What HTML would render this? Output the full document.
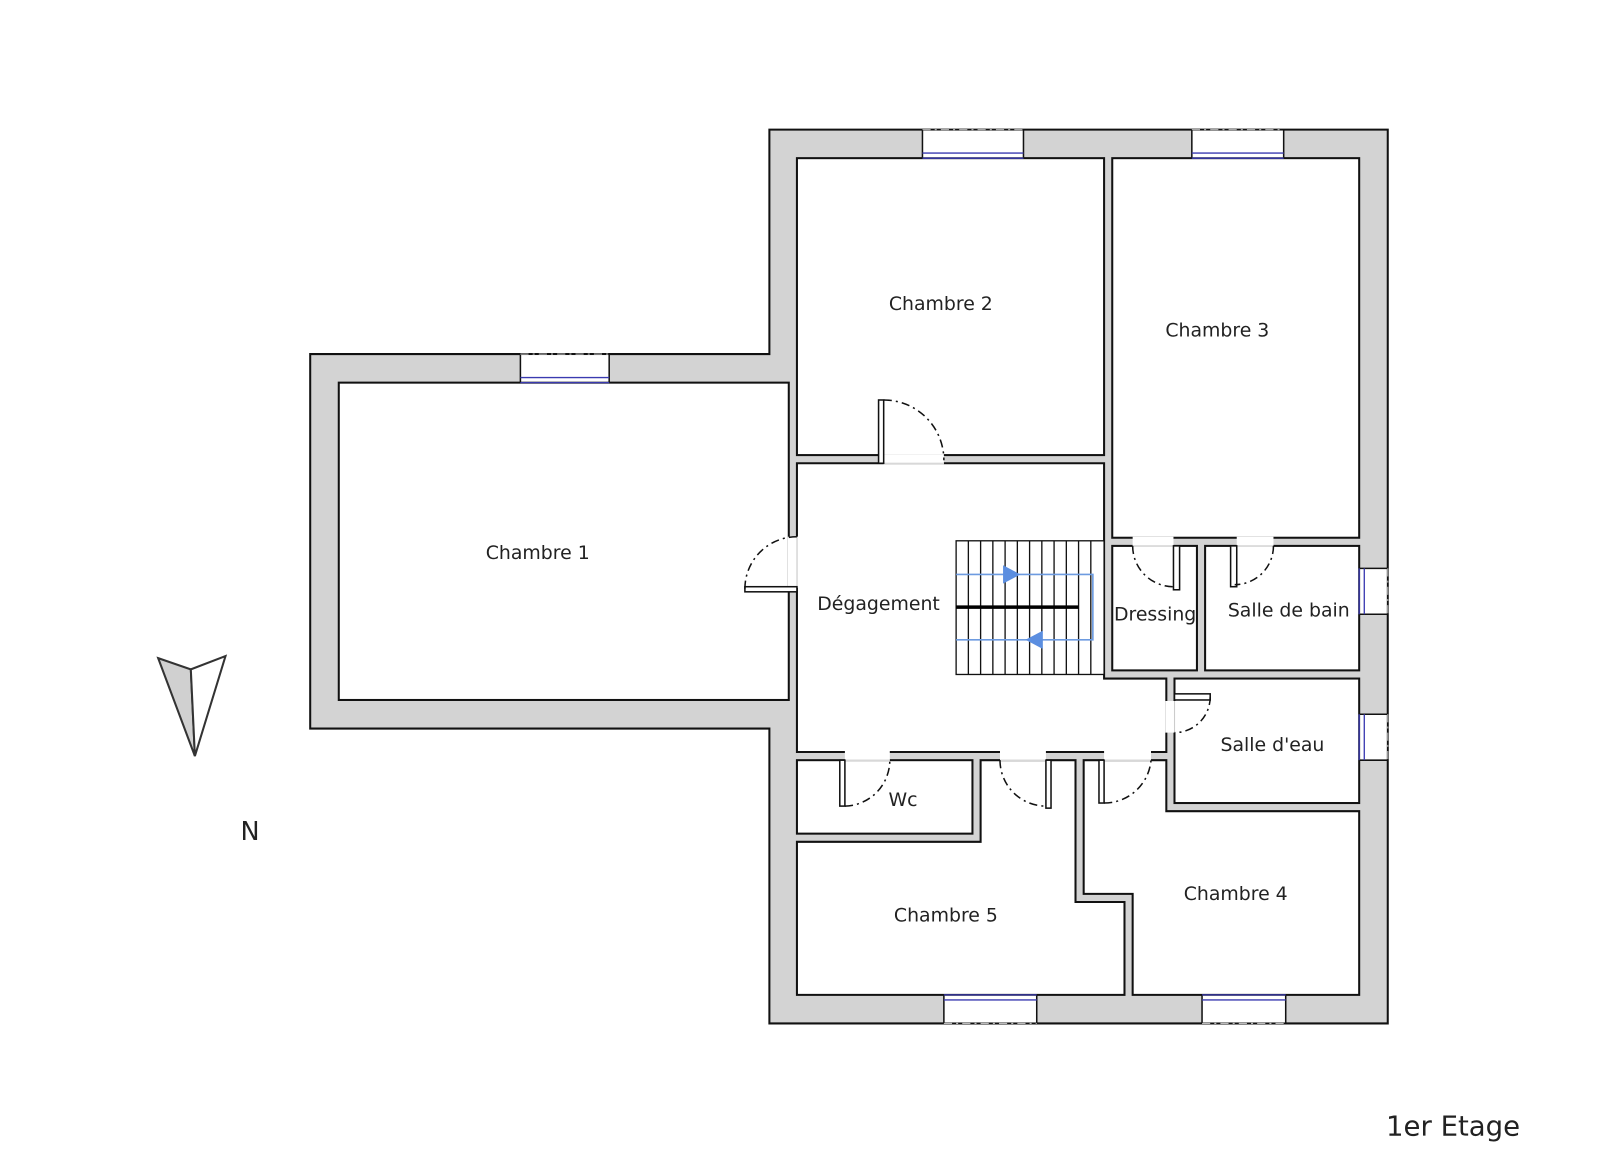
<!DOCTYPE html>
<html><head><meta charset="utf-8"><style>
html,body{margin:0;padding:0;background:#fff;width:1600px;height:1172px;overflow:hidden}
svg{display:block}
text{font-family:"DejaVu Sans","Liberation Sans",sans-serif;fill:#222}
</style></head><body>
<svg width="1600" height="1172" viewBox="0 0 1568 1148.6" preserveAspectRatio="none" xmlns="http://www.w3.org/2000/svg">
<g stroke="#111" stroke-width="2">
<polygon points="304,347 754,347 754,127 1360,127 1360,1003 754,1003 754,714 304,714" fill="#d3d3d3"/>
<g fill="#fff">
<rect x="332" y="375" width="441" height="311"/>
<rect x="781" y="155" width="301" height="291"/>
<rect x="1090" y="155" width="242" height="372"/>
<rect x="1090" y="535" width="83" height="122"/>
<rect x="1181" y="535" width="151" height="122"/>
<rect x="1151" y="665" width="181" height="122"/>
<rect x="781" y="745" width="172" height="72"/>
<polygon points="781,825 961,825 961,745 1054,745 1054,884 1102,884 1102,975 781,975"/>
<polygon points="1062,745 1143,745 1143,795 1332,795 1332,975 1110,975 1110,876 1062,876"/>
<polygon points="781,454 1082,454 1082,665 1143,665 1143,737 781,737"/>
</g>
</g>
<g fill="#fff" stroke="none">
<rect x="772" y="526" width="10" height="50"/>
<rect x="866" y="445" width="59" height="10"/>
<rect x="1110" y="526" width="40" height="10"/>
<rect x="1212" y="526" width="36" height="10"/>
<rect x="1142" y="687" width="10" height="31"/>
<rect x="828" y="736" width="44" height="10"/>
<rect x="980" y="736" width="45" height="10"/>
<rect x="1082" y="736" width="46" height="10"/>
</g>
<g stroke="#ccc" stroke-width="1">
<line x1="781" y1="526" x2="781" y2="576"/><line x1="866" y1="454" x2="925" y2="454"/>
<line x1="1110" y1="535" x2="1150" y2="535"/><line x1="1212" y1="535" x2="1248" y2="535"/>
<line x1="1151" y1="687" x2="1151" y2="718"/><line x1="828" y1="745" x2="872" y2="745"/>
<line x1="980" y1="745" x2="1025" y2="745"/><line x1="1082" y1="745" x2="1128" y2="745"/>
</g>
<g fill="#fff" stroke="#111" stroke-width="1.5">
<rect x="730" y="575" width="51" height="5"/>
<rect x="861" y="392" width="5" height="62"/>
<rect x="1150" y="535" width="6" height="43"/>
<rect x="1206" y="535" width="6" height="40"/>
<rect x="1151" y="680" width="35" height="6"/>
<rect x="823" y="745" width="5" height="45"/>
<rect x="1025" y="745" width="5" height="47"/>
<rect x="1077" y="745" width="5" height="42"/>
</g>
<g fill="none" stroke="#111" stroke-width="1.5" stroke-dasharray="8,4,2,4">
<path d="M730,577 A51,51 0 0 1 781,526"/>
<path d="M866,392 A59,59 0 0 1 925,451"/>
<path d="M1110,535 A40,40 0 0 0 1150,575"/>
<path d="M1248,535 A38,38 0 0 1 1210,573"/>
<path d="M1186,683 A35,35 0 0 1 1151,718"/>
<path d="M828,790 A45,45 0 0 0 872,745"/>
<path d="M980,745 A45,45 0 0 0 1025,790"/>
<path d="M1082,787 A46,46 0 0 0 1128,745"/>
</g>
<g fill="#fff" stroke="none">
<rect x="510" y="348" width="87" height="26"/>
<rect x="904" y="128" width="99" height="26"/>
<rect x="1168" y="128" width="90" height="26"/>
<rect x="925" y="976" width="91" height="26"/>
<rect x="1178" y="976" width="82" height="26"/>
<rect x="1333" y="557" width="26" height="45"/>
<rect x="1333" y="700" width="26" height="45"/>
</g>
<g stroke="#111" stroke-width="1.5" fill="none">
<line x1="510" y1="347" x2="510" y2="375"/><line x1="597" y1="347" x2="597" y2="375"/>
<line x1="904" y1="127" x2="904" y2="155"/><line x1="1003" y1="127" x2="1003" y2="155"/>
<line x1="1168" y1="127" x2="1168" y2="155"/><line x1="1258" y1="127" x2="1258" y2="155"/>
<line x1="925" y1="975" x2="925" y2="1003"/><line x1="1016" y1="975" x2="1016" y2="1003"/>
<line x1="1178" y1="975" x2="1178" y2="1003"/><line x1="1260" y1="975" x2="1260" y2="1003"/>
<line x1="1332" y1="557" x2="1360" y2="557"/><line x1="1332" y1="602" x2="1360" y2="602"/>
<line x1="1332" y1="700" x2="1360" y2="700"/><line x1="1332" y1="745" x2="1360" y2="745"/>
</g>
<g stroke="#3a3ab0" stroke-width="1.3" fill="none">
<path d="M510,370H597M510,375H597"/>
<path d="M904,150H1003M904,155H1003"/>
<path d="M1168,150H1258M1168,155H1258"/>
<path d="M925,975H1016M925,980H1016"/>
<path d="M1178,975H1260M1178,980H1260"/>
<path d="M1332,557V602M1337,557V602"/>
<path d="M1332,700V745M1337,700V745"/>
</g>
<g stroke="#bbb" stroke-width="1" stroke-dasharray="8,4,2,4" fill="none">
<path d="M510,347H597M904,127H1003M1168,127H1258M925,1003H1016M1178,1003H1260M1360,557V602M1360,700V745"/>
</g>
<g stroke="#111" stroke-width="1.3" fill="none">
<rect x="937" y="530" width="145" height="131" fill="#fff"/>
<path d="M949,530V661M961,530V661M973,530V661M985,530V661M997,530V661M1009,530V661M1021,530V661M1033,530V661M1045,530V661M1057,530V661M1069,530V661"/>
</g>
<line x1="937" y1="595" x2="1057" y2="595" stroke="#000" stroke-width="3.5"/>
<path d="M937,563H1071V627H937" fill="none" stroke="#6d9be0" stroke-width="1.6"/>
<polygon points="983,554 1000,563 983,572" fill="#5b8ee0"/>
<polygon points="1022,618 1005,627 1022,636" fill="#5b8ee0"/>
<polygon points="155,645 187,656 191,741" fill="#d0d0d0" stroke="#333" stroke-width="2"/>
<polygon points="187,656 221,643 191,741" fill="#fff" stroke="#333" stroke-width="2"/>
<text x="245" y="823" font-size="25" text-anchor="middle">N</text>
<g font-size="18.5" text-anchor="middle">
<text x="922" y="304">Chambre 2</text>
<text x="1193" y="330">Chambre 3</text>
<text x="527" y="548">Chambre 1</text>
<text x="861" y="598">Dégagement</text>
<text x="1132" y="608">Dressing</text>
<text x="1263" y="604">Salle de bain</text>
<text x="1247" y="736">Salle d'eau</text>
<text x="885" y="790">Wc</text>
<text x="927" y="903">Chambre 5</text>
<text x="1211" y="882">Chambre 4</text>
</g>
<text x="1424" y="1113" font-size="27" text-anchor="middle">1er Etage</text>
</svg>
</body></html>
